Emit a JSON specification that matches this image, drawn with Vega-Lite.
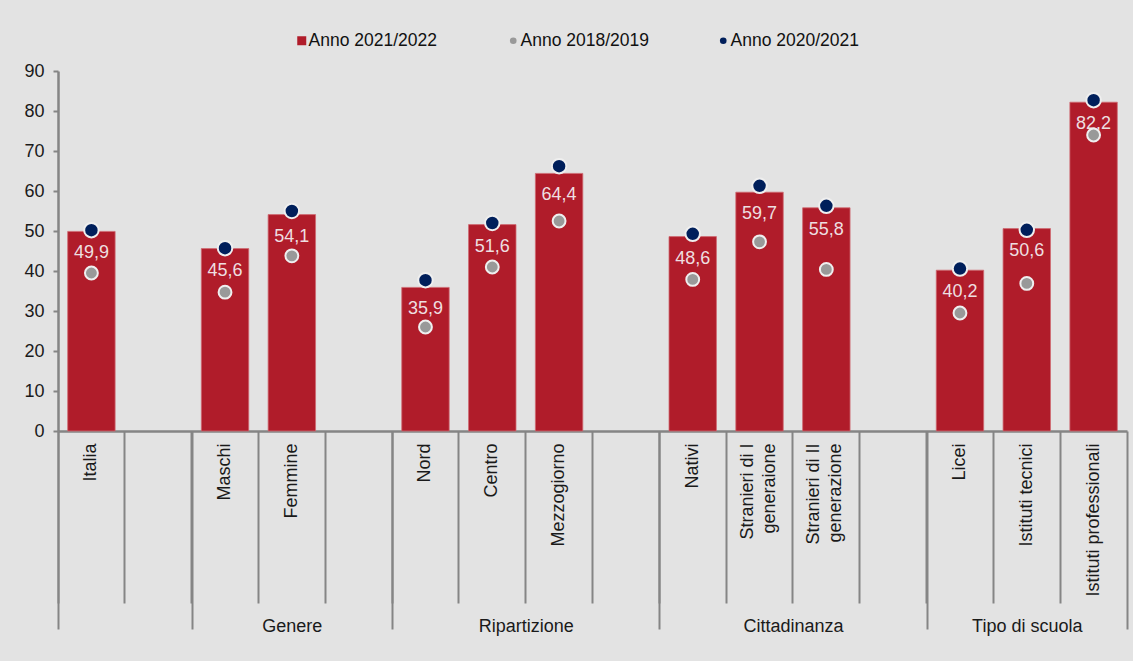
{
  "$schema": "https://vega.github.io/schema/vega-lite/v6.json",
  "width": 1069,
  "height": 360,
  "autosize": "none",
  "padding": {"left": 58, "top": 71, "right": 6, "bottom": 230},
  "background": "#e3e3e3",
  "config": {
    "view": {"stroke": null},
    "font": "Liberation Sans",
    "locale": {"number": {"decimal": ",", "thousands": ".", "grouping": [3], "currency": ["", " €"]}},
    "axisY": {
      "title": null,
      "tickSize": 5,
      "tickColor": "#858585",
      "tickWidth": 2,
      "domainColor": "#858585",
      "domainWidth": 2.5,
      "labelFontSize": 18,
      "labelColor": "#1a1a1a",
      "labelPadding": 9,
      "labelOverlap": false,
      "labelBound": false,
      "labelFlush": false,
      "grid": false,
      "tickCount": 10
    },
    "legend": {
      "title": null,
      "orient": "none",
      "direction": "horizontal",
      "padding": 0,
      "labelFontSize": 17.5,
      "labelColor": "#111111",
      "symbolStrokeWidth": 0,
      "symbolOpacity": 1
    }
  },
  "datasets": {
    "main": [
      {"cat": "Italia", "v2122": 49.9, "v1819": 39.5, "v2021": 50.2},
      {"cat": "Maschi", "v2122": 45.6, "v1819": 34.7, "v2021": 45.7},
      {"cat": "Femmine", "v2122": 54.1, "v1819": 43.8, "v2021": 55.0},
      {"cat": "Nord", "v2122": 35.9, "v1819": 26.0, "v2021": 37.7},
      {"cat": "Centro", "v2122": 51.6, "v1819": 41.0, "v2021": 52.0},
      {"cat": "Mezzogiorno", "v2122": 64.4, "v1819": 52.5, "v2021": 66.2},
      {"cat": "Nativi", "v2122": 48.6, "v1819": 37.9, "v2021": 49.3},
      {"cat": "Stranieri di I|generaione", "v2122": 59.7, "v1819": 47.3, "v2021": 61.3},
      {"cat": "Stranieri di II|generazione", "v2122": 55.8, "v1819": 40.4, "v2021": 56.3},
      {"cat": "Licei", "v2122": 40.2, "v1819": 29.5, "v2021": 40.6},
      {"cat": "Istituti tecnici", "v2122": 50.6, "v1819": 36.9, "v2021": 50.3},
      {"cat": "Istituti professionali", "v2122": 82.2, "v1819": 74.0, "v2021": 82.7}
    ],
    "groups": [
      {"pos": 3.5, "group": "Genere"},
      {"pos": 7, "group": "Ripartizione"},
      {"pos": 11, "group": "Cittadinanza"},
      {"pos": 14.5, "group": "Tipo di scuola"}
    ]
  },
  "layer": [
    {
      "data": {"name": "main"},
      "encoding": {
        "x": {
          "field": "cat",
          "type": "nominal",
          "sort": null,
          "scale": {
            "domain": ["Italia", "gap1", "Maschi", "Femmine", "gap2", "Nord", "Centro", "Mezzogiorno", "gap3", "Nativi", "Stranieri di I|generaione", "Stranieri di II|generazione", "gap4", "Licei", "Istituti tecnici", "Istituti professionali"],
            "paddingInner": 0,
            "paddingOuter": 0
          },
          "axis": {
            "title": null,
            "orient": "bottom",
            "bandPosition": 0,
            "labelAngle": -90,
            "labelAlign": "right",
            "labelBaseline": "middle",
            "labelFontSize": 18,
            "labelColor": "#1a1a1a",
            "labelLineHeight": 22,
            "labelPadding": -160,
            "labelOffset": {"condition": {"test": "indexof(datum.value, '|') >= 0", "value": -12}, "value": 0},
            "labelOverlap": false,
            "labelBound": false,
            "labelExpr": "indexof(datum.value, 'gap') == 0 ? '' : split(datum.value, '|')",
            "tickSize": 172,
            "tickColor": "#858585",
            "tickWidth": 2,
            "domainColor": "#858585",
            "domainWidth": 2.5,
            "grid": false
          }
        }
      },
      "layer": [
        {
          "mark": {"type": "bar", "width": {"band": 0.71}, "stroke": "#cf6a72", "strokeWidth": 0.8},
          "encoding": {
            "y": {
              "field": "v2122",
              "type": "quantitative",
              "scale": {"domain": [0, 90], "nice": false},
              "axis": {"values": [0, 10, 20, 30, 40, 50, 60, 70, 80, 90]}
            },
            "color": {
              "datum": "Anno 2021/2022",
              "type": "nominal",
              "scale": {"domain": ["Anno 2021/2022"], "range": ["#b01c2a"]},
              "legend": {"legendX": 235, "legendY": -39, "symbolType": "square", "symbolSize": 81, "labelOffset": -2}
            }
          }
        },
        {
          "mark": {"type": "text", "dy": 22, "baseline": "middle", "fontSize": 18, "color": "#eedfe0"},
          "encoding": {
            "y": {"field": "v2122", "type": "quantitative", "scale": {"domain": [0, 90], "nice": false}, "axis": {"values": [0, 10, 20, 30, 40, 50, 60, 70, 80, 90]}},
            "text": {"field": "v2122", "type": "quantitative", "format": ".1f"}
          }
        },
        {
          "mark": {"type": "point", "shape": "circle", "filled": true, "opacity": 1, "size": 165, "stroke": "#efefef", "strokeWidth": 2},
          "encoding": {
            "y": {"field": "v1819", "type": "quantitative", "scale": {"domain": [0, 90], "nice": false}, "axis": {"values": [0, 10, 20, 30, 40, 50, 60, 70, 80, 90]}},
            "color": {
              "datum": "Anno 2018/2019",
              "type": "nominal",
              "scale": {"domain": ["Anno 2018/2019"], "range": ["#999999"]},
              "legend": {"legendX": 446.5, "legendY": -39, "symbolType": "circle", "symbolSize": 44, "labelOffset": -1.5}
            }
          }
        },
        {
          "mark": {"type": "point", "shape": "circle", "filled": true, "opacity": 1, "size": 210, "stroke": "#efefef", "strokeWidth": 2},
          "encoding": {
            "y": {"field": "v2021", "type": "quantitative", "scale": {"domain": [0, 90], "nice": false}, "axis": {"values": [0, 10, 20, 30, 40, 50, 60, 70, 80, 90]}},
            "color": {
              "datum": "Anno 2020/2021",
              "type": "nominal",
              "scale": {"domain": ["Anno 2020/2021"], "range": ["#001f5b"]},
              "legend": {"legendX": 656.5, "legendY": -39, "symbolType": "circle", "symbolSize": 44, "labelOffset": -1.5}
            }
          }
        }
      ],
      "resolve": {"scale": {"color": "independent"}}
    },
    {
      "data": {"name": "groups"},
      "mark": {"type": "point", "opacity": 0},
      "encoding": {
        "x": {
          "field": "pos",
          "type": "quantitative",
          "scale": {"domain": [0, 16], "nice": false, "zero": false},
          "axis": {
            "title": null,
            "orient": "bottom",
            "values": [0, 2, 3.5, 5, 7, 9, 11, 13, 14.5, 16],
            "domain": false,
            "grid": false,
            "tickSize": 198,
            "tickColor": "#858585",
            "tickWidth": 2,
            "tickOpacity": {"condition": {"test": "indexof([0, 2, 5, 9, 13, 16], datum.value) >= 0", "value": 1}, "value": 0},
            "labelExpr": "datum.value == 3.5 ? 'Genere' : datum.value == 7 ? 'Ripartizione' : datum.value == 11 ? 'Cittadinanza' : datum.value == 14.5 ? 'Tipo di scuola' : ''",
            "labelFontSize": 18,
            "labelColor": "#1a1a1a",
            "labelAngle": 0,
            "labelPadding": -12,
            "labelOverlap": false,
            "labelBound": false,
            "labelFlush": false
          }
        }
      }
    }
  ],
  "resolve": {"scale": {"x": "independent"}}
}
